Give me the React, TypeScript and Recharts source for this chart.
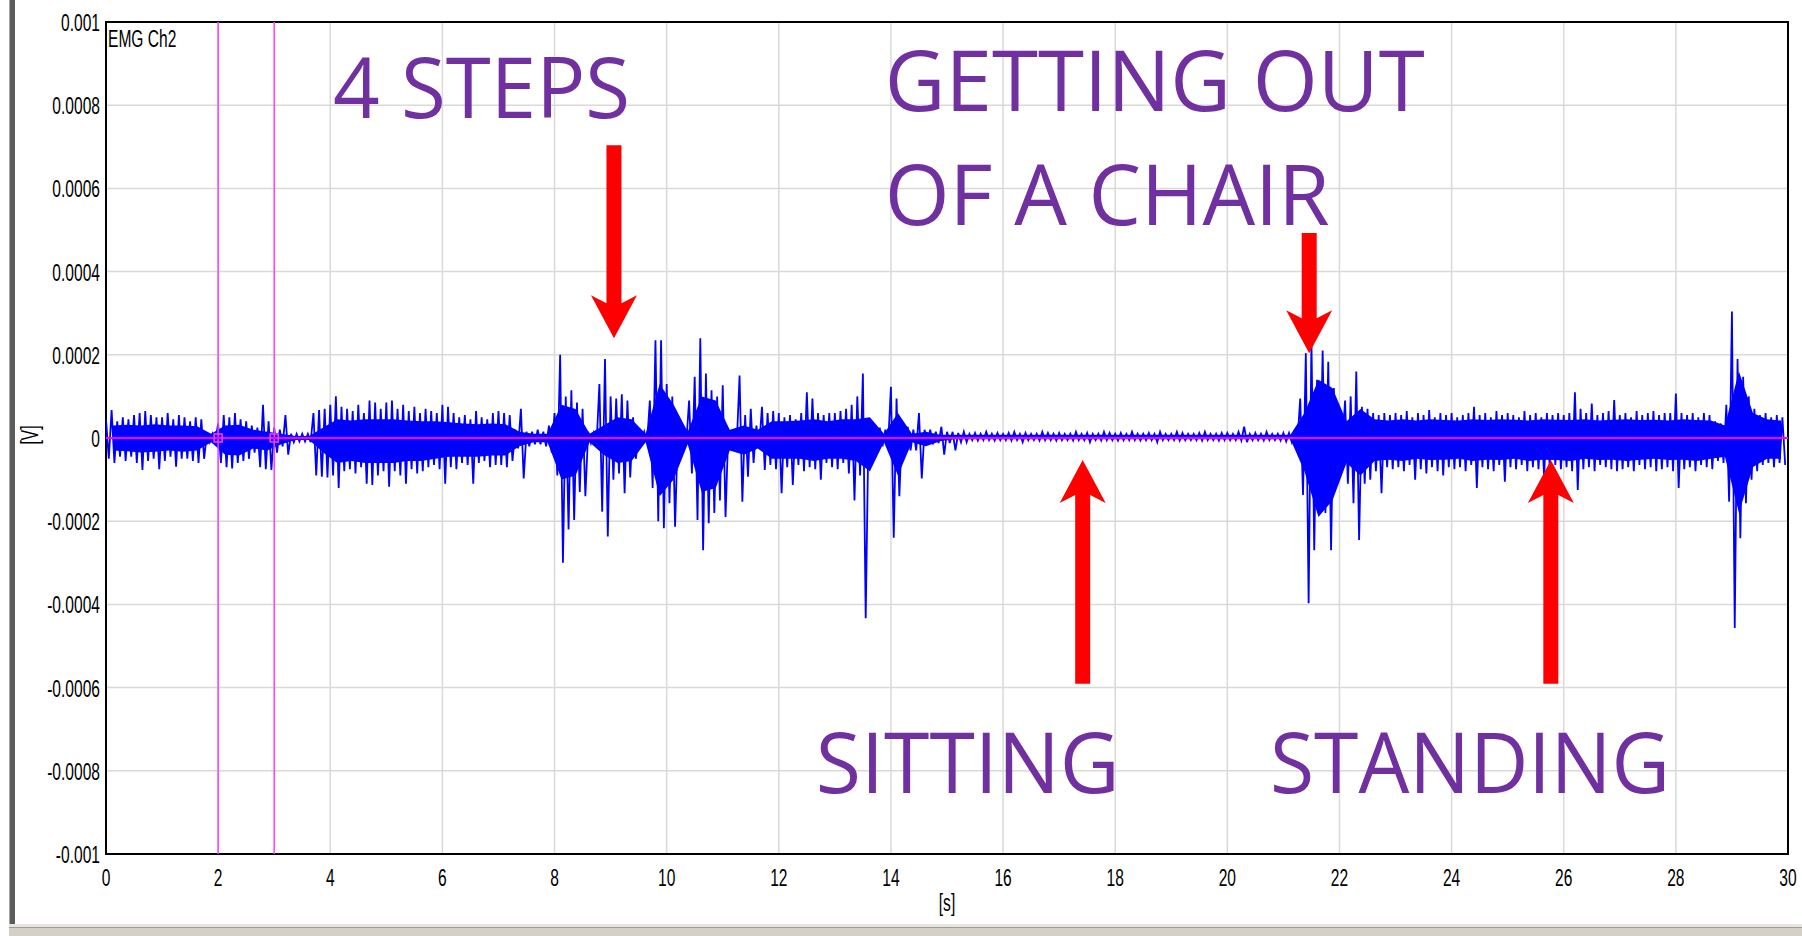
import {
  ComposedChart,
  Line,
  Area,
  XAxis,
  YAxis,
  CartesianGrid,
  ReferenceLine,
  ReferenceDot,
  ReferenceArea,
  Label,
} from "recharts";

const binSeconds = 0.1;

const peakHigh = [
  0.45, 0.67, 0.4, 0.5, 0.45, 0.55, 0.6, 0.65, 0.55, 0.5,
  0.5, 0.6, 0.45, 0.55, 0.5, 0.4, 0.5, 0.45, 0.12, 0.1,
  0.35, 0.55, 0.5, 0.6, 0.45, 0.4, 0.3, 0.25, 0.8, 0.4,
  0.25, 0.2, 0.55, 0.1, 0.1, 0.1, 0.1, 0.6, 0.67, 0.7,
  0.8, 1.0, 0.75, 0.7, 0.65, 0.8, 0.6, 0.9, 0.85, 0.7,
  0.85, 0.9, 0.7, 0.8, 0.65, 0.75, 0.6, 0.7, 0.65, 0.6,
  0.8, 0.75, 0.6, 0.5, 0.55, 0.45, 0.65, 0.5, 0.45, 0.6,
  0.65, 0.6, 0.55, 0.2, 0.7, 0.15, 0.15, 0.2, 0.15, 0.3,
  0.6, 2.0, 1.0, 1.15, 0.85, 0.7, 0.15, 0.12, 1.3, 1.9,
  1.0, 0.95, 1.05, 0.9, 0.5, 0.12, 0.15, 0.9, 2.35, 2.35,
  1.3, 1.0, 0.2, 0.15, 0.9, 1.47, 2.4, 1.55, 1.15, 1.0,
  1.27, 0.2, 0.2, 1.5, 0.55, 0.7, 0.3, 0.75, 0.6, 0.65,
  0.6, 0.5, 0.55, 0.45, 0.6, 1.1, 0.95, 0.6, 0.55, 0.6,
  0.6, 0.65, 0.7, 0.8, 1.0, 1.55, 0.25, 0.2, 0.25, 0.2,
  1.23, 0.95, 0.3, 0.27, 0.2, 0.6, 0.2, 0.2, 0.15, 0.27,
  0.15, 0.15, 0.12, 0.15, 0.1, 0.12, 0.1, 0.15, 0.1, 0.12,
  0.1, 0.12, 0.15, 0.1, 0.12, 0.1, 0.1, 0.15, 0.12, 0.1,
  0.12, 0.1, 0.1, 0.15, 0.1, 0.12, 0.1, 0.1, 0.15, 0.12,
  0.1, 0.12, 0.1, 0.15, 0.1, 0.1, 0.12, 0.1, 0.15, 0.1,
  0.1, 0.15, 0.12, 0.1, 0.1, 0.12, 0.15, 0.1, 0.1, 0.12,
  0.12, 0.1, 0.15, 0.27, 0.1, 0.12, 0.1, 0.15, 0.1, 0.1,
  0.12, 0.12, 0.15, 0.95, 2.04, 2.35, 1.4, 2.1, 1.83, 1.2,
  0.15, 0.9, 1.0, 1.6, 0.75, 0.7, 0.6, 0.55, 0.6, 0.55,
  0.6, 0.55, 0.65, 0.5, 0.6, 0.55, 0.67, 0.5, 0.6, 0.55,
  0.6, 0.5, 0.55, 0.6, 0.75, 0.55, 0.6, 0.5, 0.65, 0.55,
  0.6, 0.55, 0.5, 0.65, 0.55, 0.6, 0.5, 0.6, 0.55, 0.6,
  0.55, 0.6, 1.1, 0.7, 0.6, 0.83, 0.55, 0.6, 0.65, 0.91,
  0.55, 0.6, 0.5, 0.65, 0.55, 0.6, 0.65, 0.55, 0.6, 0.6,
  1.07, 0.6, 0.55, 0.6, 0.5, 0.6, 0.55, 0.4, 0.35, 0.8,
  3.04, 1.9, 1.47, 1.0, 0.7, 0.55, 0.6, 0.5, 0.55, 0.5,
];

const peakLow = [
  -0.5, -0.6, -0.45, -0.55, -0.45, -0.6, -0.77, -0.55, -0.5, -0.75,
  -0.55, -0.45, -0.69, -0.5, -0.5, -0.55, -0.6, -0.5, -0.1, -0.1,
  -0.6, -0.7, -0.73, -0.6, -0.55, -0.5, -0.35, -0.7, -0.75, -0.77,
  -0.35, -0.2, -0.4, -0.1, -0.08, -0.08, -0.1, -0.9, -0.93, -0.95,
  -0.9, -1.2, -0.8, -0.75, -0.85, -0.7, -1.1, -1.13, -0.9, -0.8,
  -1.17, -0.8, -0.9, -1.1, -0.75, -0.85, -0.8, -0.7, -0.65, -0.75,
  -1.1, -0.7, -0.75, -0.6, -0.65, -1.1, -0.6, -0.55, -0.7, -0.65,
  -0.65, -0.7, -0.55, -0.25, -0.97, -0.2, -0.15, -0.15, -0.2, -0.35,
  -0.9, -3.0, -2.2, -1.97, -1.3, -1.4, -0.12, -0.15, -1.77, -2.37,
  -1.0, -0.85, -1.33, -0.95, -0.5, -0.1, -0.12, -1.2, -2.0, -2.17,
  -1.57, -2.13, -0.15, -0.12, -0.85, -1.97, -2.7, -2.05, -1.8, -1.5,
  -1.9, -0.2, -0.15, -1.53, -0.93, -0.6, -0.2, -0.77, -0.65, -0.75,
  -1.33, -0.7, -1.13, -0.65, -0.8, -0.7, -0.75, -1.0, -0.6, -0.7,
  -0.75, -0.6, -0.85, -1.5, -0.9, -4.33, -0.25, -0.3, -0.2, -0.15,
  -2.4, -1.4, -0.25, -0.3, -0.3, -0.97, -0.15, -0.15, -0.12, -0.4,
  -0.12, -0.3, -0.1, -0.1, -0.05, -0.06, -0.05, -0.05, -0.06, -0.05,
  -0.05, -0.06, -0.05, -0.1, -0.05, -0.05, -0.06, -0.05, -0.05, -0.06,
  -0.05, -0.05, -0.06, -0.05, -0.05, -0.1, -0.05, -0.06, -0.05, -0.05,
  -0.06, -0.05, -0.05, -0.05, -0.06, -0.05, -0.05, -0.1, -0.05, -0.05,
  -0.05, -0.06, -0.05, -0.05, -0.05, -0.06, -0.05, -0.05, -0.06, -0.05,
  -0.05, -0.05, -0.06, -0.1, -0.05, -0.05, -0.06, -0.05, -0.05, -0.06,
  -0.08, -0.1, -0.1, -1.37, -3.97, -2.7, -1.5, -1.8, -2.7, -1.0,
  -0.15, -1.1, -1.57, -2.45, -1.1, -1.0, -0.8, -1.33, -0.7, -0.75,
  -0.7, -0.8, -0.65, -1.0, -0.75, -0.85, -0.7, -0.8, -0.9, -0.7,
  -0.75, -0.7, -0.8, -0.65, -1.2, -0.7, -0.75, -0.8, -0.65, -1.05,
  -0.7, -0.75, -0.65, -0.8, -0.7, -0.75, -0.93, -0.7, -0.65, -0.75,
  -0.7, -0.8, -1.25, -0.75, -0.7, -0.8, -0.65, -0.7, -0.75, -0.8,
  -0.75, -0.7, -0.8, -0.65, -0.75, -0.7, -0.8, -0.75, -0.7, -0.8,
  -1.2, -0.75, -0.7, -0.8, -0.65, -0.7, -0.75, -0.55, -0.6, -1.53,
  -4.57, -2.41, -1.57, -1.0, -0.8, -0.65, -0.6, -0.7, -0.6, -0.65,
];

// solid core of the trace, per 0.25 s, in units of 1e-4 V
const coreSeconds = 0.25;

const coreHigh = [
  0.3, 0.32, 0.3, 0.33, 0.3, 0.3, 0.28, 0.1,
  0.3, 0.32, 0.2, 0.15, 0.1, 0.05, 0.05, 0.25,
  0.45, 0.42, 0.45, 0.45, 0.45, 0.42, 0.4, 0.4,
  0.38, 0.35, 0.33, 0.35, 0.33, 0.15, 0.1, 0.1,
  0.8, 0.7, 0.1, 0.3, 0.5, 0.45, 0.1, 1.3,
  0.8, 0.15, 1.0, 0.9, 0.2, 0.3, 0.2, 0.4,
  0.4, 0.42, 0.45, 0.4, 0.45, 0.45, 0.5, 0.1,
  0.6, 0.1, 0.15, 0.08, 0.08, 0.08, 0.08, 0.08,
  0.08, 0.08, 0.08, 0.08, 0.08, 0.08, 0.08, 0.08,
  0.08, 0.08, 0.08, 0.08, 0.08, 0.08, 0.08, 0.08,
  0.08, 0.08, 0.08, 0.08, 0.08, 0.6, 1.4, 1.2,
  0.4, 0.7, 0.45, 0.42, 0.45, 0.42, 0.45, 0.43,
  0.42, 0.45, 0.43, 0.45, 0.44, 0.42, 0.45, 0.44,
  0.43, 0.45, 0.42, 0.44, 0.45, 0.43, 0.44, 0.42,
  0.45, 0.43, 0.42, 0.3, 1.6, 0.6, 0.45, 0.42,
];

const coreLow = [
  -0.3, -0.32, -0.35, -0.33, -0.3, -0.33, -0.3, -0.1,
  -0.4, -0.42, -0.25, -0.3, -0.15, -0.05, -0.05, -0.35,
  -0.6, -0.55, -0.6, -0.6, -0.6, -0.55, -0.55, -0.5,
  -0.45, -0.45, -0.45, -0.42, -0.42, -0.2, -0.1, -0.1,
  -1.0, -0.9, -0.1, -0.4, -0.6, -0.55, -0.1, -1.4,
  -1.0, -0.15, -1.3, -1.2, -0.3, -0.4, -0.25, -0.5,
  -0.5, -0.5, -0.55, -0.5, -0.5, -0.55, -0.8, -0.1,
  -0.9, -0.1, -0.2, -0.08, -0.03, -0.03, -0.03, -0.03,
  -0.03, -0.03, -0.03, -0.03, -0.03, -0.03, -0.03, -0.03,
  -0.03, -0.03, -0.03, -0.03, -0.03, -0.03, -0.03, -0.03,
  -0.03, -0.03, -0.03, -0.03, -0.03, -0.8, -1.9, -1.5,
  -0.6, -0.9, -0.55, -0.52, -0.55, -0.5, -0.53, -0.52,
  -0.5, -0.55, -0.52, -0.53, -0.5, -0.55, -0.52, -0.53,
  -0.55, -0.5, -0.53, -0.52, -0.55, -0.52, -0.5, -0.53,
  -0.52, -0.55, -0.5, -0.45, -1.8, -0.7, -0.5, -0.5,
];

const xTicks = [0, 2, 4, 6, 8, 10, 12, 14, 16, 18, 20, 22, 24, 26, 28, 30];
const yTicks = [
  0.001, 0.0008, 0.0006, 0.0004, 0.0002, 0, -0.0002, -0.0004, -0.0006,
  -0.0008, -0.001,
];
const yTickText = [
  "0.001", "0.0008", "0.0006", "0.0004", "0.0002", "0", "-0.0002",
  "-0.0004", "-0.0006", "-0.0008", "-0.001",
];
const cursorTimes = [2, 3];

// zigzag max -> min inside each bin, like the dense EMG trace
const trace = peakHigh.flatMap((hi, i) => [
  { t: i * binSeconds, v: hi * 1e-4 },
  { t: i * binSeconds + binSeconds / 2, v: peakLow[i] * 1e-4 },
]);

const core = coreHigh.map((hi, i) => ({
  t: i * coreSeconds + coreSeconds / 2,
  band: [coreLow[i] * 1e-4, hi * 1e-4],
}));

const notes = [
  { text: "4 STEPS", t: 4.05, v: 0.000769, w: 297 },
  { text: "GETTING OUT", t: 13.89, v: 0.000786, w: 540 },
  { text: "OF A CHAIR", t: 13.89, v: 0.000512, w: 445 },
  { text: "SITTING", t: 12.66, v: -0.000853, w: 304 },
  { text: "STANDING", t: 20.76, v: -0.000853, w: 400 },
];

const arrows = [
  { t: 9.06, from: 0.000704, to: 0.00024 },
  { t: 21.46, from: 0.000493, to: 0.000204 },
  { t: 17.42, from: -0.000591, to: -0.000053 },
  { t: 25.77, from: -0.000591, to: -0.000053 },
];

const axisFont = "'Liberation Sans', Arial, sans-serif";
const noteFont = "'Open Sans', 'Noto Sans', sans-serif";

function YTick({ x, y, payload }: any) {
  const i = yTicks.findIndex((v) => Math.abs(v - payload.value) < 1e-9);
  return (
    <text
      transform={`translate(${x},${y + 9}) scale(0.82,1.25)`}
      textAnchor="end"
      fontFamily={axisFont}
      fontSize={19}
      fill="#000"
    >
      {yTickText[i]}
    </text>
  );
}

function XTick({ x, y, payload }: any) {
  return (
    <text
      transform={`translate(${x},${y + 26}) scale(0.82,1.25)`}
      textAnchor="middle"
      fontFamily={axisFont}
      fontSize={19}
      fill="#000"
    >
      {payload.value}
    </text>
  );
}

function arrowShape(p: any) {
  const { x1, y1, x2, y2 } = p;
  const dir = y2 > y1 ? 1 : -1;
  const shaft = 7.5;
  const wing = 23;
  const head = 43;
  const notch = 35;
  const pts = [
    [x1 - shaft, y1],
    [x1 + shaft, y1],
    [x1 + shaft, y2 - dir * notch],
    [x1 + wing, y2 - dir * head],
    [x2, y2],
    [x1 - wing, y2 - dir * head],
    [x1 - shaft, y2 - dir * notch],
  ];
  return <polygon points={pts.map((q) => q.join(",")).join(" ")} fill="#ff0000" />;
}

export default function App() {
  return (
    <div style={{ position: "absolute", left: 0, top: 0, width: 1802, height: 936, background: "#fff" }}>
      <div
        style={{
          position: "absolute",
          left: 9,
          top: 0,
          width: 5,
          height: 925,
          background: "#5c5c5c",
          borderLeft: "1px solid #a8a8a8",
        }}
      />
      <div style={{ position: "absolute", left: 9, top: 924, width: 1793, height: 3, background: "#e8e5de" }} />
      <div
        style={{
          position: "absolute",
          left: 9,
          top: 927,
          width: 1793,
          height: 9,
          background: "#d4d0c8",
          borderTop: "1px solid #9c9a94",
          boxSizing: "border-box",
        }}
      />
      <ComposedChart
        width={1802}
        height={936}
        margin={{ top: 22, right: 14, left: 46, bottom: 0 }}
      >
        <CartesianGrid stroke="#d9d9d9" strokeWidth={1.5} />
        <XAxis
          dataKey="t"
          type="number"
          domain={[0, 30]}
          ticks={xTicks}
          height={82}
          tickSize={4}
          tickMargin={2}
          tickLine={false}
          axisLine={false}
          tick={<XTick />}
          allowDataOverflow
        >
          <Label
            content={(props: any) => {
              const vb = props.viewBox;
              return (
                <text
                  transform={`translate(${vb.x + vb.width / 2},911) scale(0.82,1.25)`}
                  textAnchor="middle"
                  fontFamily={axisFont}
                  fontSize={19}
                  fill="#000"
                >
                  [s]
                </text>
              );
            }}
          />
        </XAxis>
        <YAxis
          type="number"
          domain={[-0.001, 0.001]}
          ticks={yTicks}
          width={60}
          tickSize={4}
          tickMargin={2}
          tickLine={false}
          axisLine={false}
          tick={<YTick />}
          allowDataOverflow
        >
          <Label
            content={(props: any) => {
              const vb = props.viewBox;
              return (
                <text
                  transform={`translate(${vb.x - 8},${vb.y + vb.height / 2 - 3}) rotate(-90) scale(0.82,1.25)`}
                  textAnchor="middle"
                  fontFamily={axisFont}
                  fontSize={19}
                  fill="#000"
                >
                  [V]
                </text>
              );
            }}
          />
        </YAxis>
        <Area
          data={core}
          dataKey="band"
          type="linear"
          fill="#0000ff"
          fillOpacity={1}
          stroke="none"
          dot={false}
          activeDot={false}
          isAnimationActive={false}
        />
        <Line
          data={trace}
          dataKey="v"
          type="linear"
          stroke="#0000ff"
          strokeWidth={1.8}
          dot={false}
          activeDot={false}
          isAnimationActive={false}
        />
        {cursorTimes.map((t) => (
          <ReferenceLine key={`c${t}`} x={t} stroke="#ff3cff" strokeWidth={1.5} />
        ))}
        <ReferenceLine y={0} stroke="#ff00ff" strokeWidth={2} />
        {cursorTimes.map((t) => (
          <ReferenceDot
            key={`d${t}`}
            x={t}
            y={0}
            shape={(p: any) => (
              <rect
                x={p.cx - 4}
                y={p.cy - 4}
                width={8}
                height={8}
                fill="none"
                stroke="#ff3cff"
                strokeWidth={1.5}
              />
            )}
          />
        ))}
        <ReferenceDot
          x={0}
          y={0.001}
          shape={(p: any) => (
            <text
              transform={`translate(${p.cx + 2},${p.cy + 25}) scale(0.82,1.25)`}
              fontFamily={axisFont}
              fontSize={19}
              fill="#000"
            >
              EMG Ch2
            </text>
          )}
        />
        {arrows.map((a, i) => (
          <ReferenceLine
            key={`a${i}`}
            segment={[
              { x: a.t, y: a.from },
              { x: a.t, y: a.to },
            ]}
            shape={arrowShape}
          />
        ))}
        {notes.map((n) => (
          <ReferenceDot
            key={n.text}
            x={n.t}
            y={n.v}
            shape={(p: any) => (
              <text
                x={p.cx}
                y={p.cy}
                fontFamily={noteFont}
                fontSize={85}
                fill="#7030a0"
                textLength={n.w}
                lengthAdjust="spacingAndGlyphs"
              >
                {n.text}
              </text>
            )}
          />
        ))}
        <ReferenceArea
          x1={0}
          x2={30}
          y1={-0.001}
          y2={0.001}
          fill="none"
          stroke="#000"
          strokeWidth={2}
          ifOverflow="visible"
        />
      </ComposedChart>
    </div>
  );
}
